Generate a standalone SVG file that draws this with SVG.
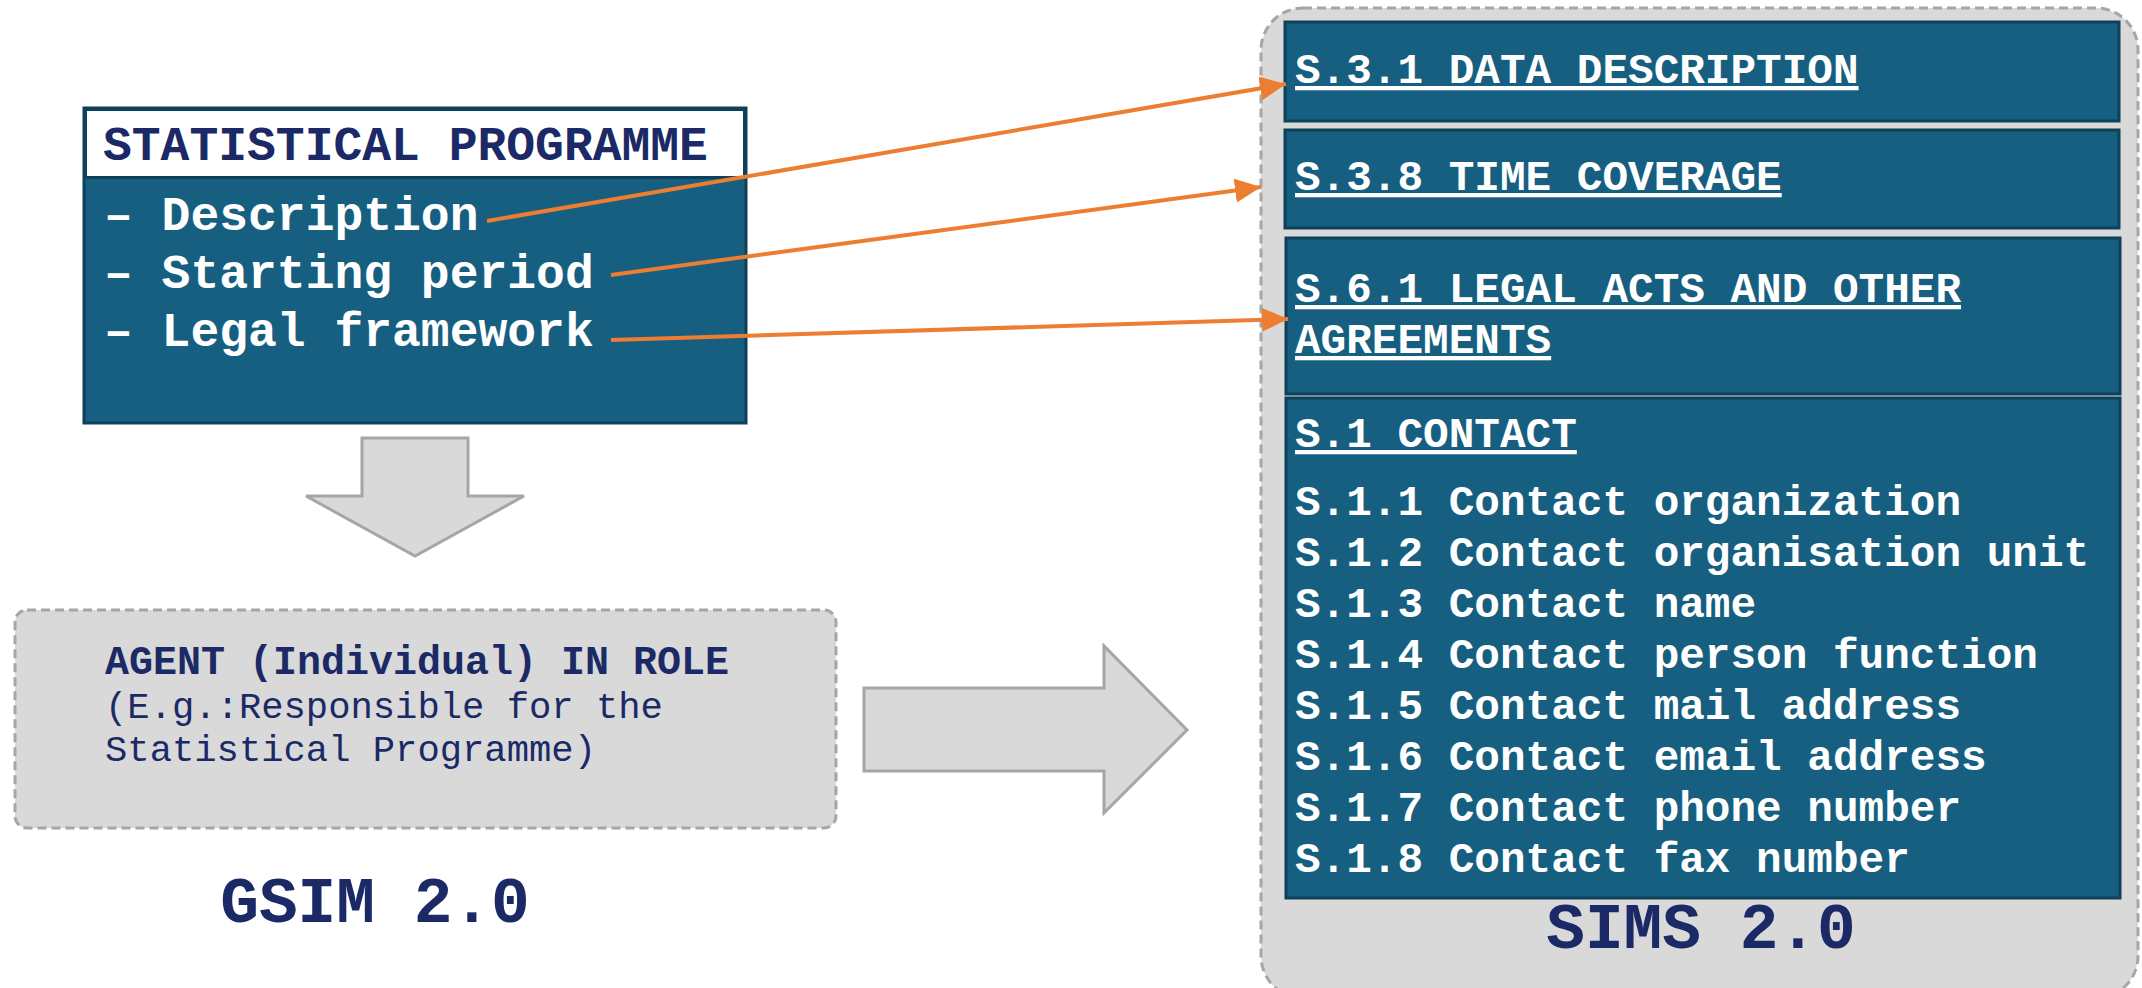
<svg xmlns="http://www.w3.org/2000/svg" width="2142" height="988" viewBox="0 0 2142 988">
<style>
.mono{font-family:"Liberation Mono","DejaVu Sans Mono",monospace}
.navyb{fill:#1B2A66;font-weight:bold}
.navy{fill:#1B2A66}
.white{fill:#FFFFFF;font-weight:bold}
.ul{text-decoration:underline}
.teal{fill:#175F80;stroke:#0E4159;stroke-width:3}
.grey{fill:#D9D9D9;stroke:#A6A6A6;stroke-width:3}
.dash{stroke-dasharray:9 5}
.conn{stroke:#ED7D31;stroke-width:4;fill:none}
</style>
<defs>
<marker id="ah" markerUnits="userSpaceOnUse" markerWidth="30" markerHeight="26" refX="26" refY="12" orient="auto">
<path d="M0,0 L26,12 L0,24 Z" fill="#ED7D31"/>
</marker>
</defs>
<rect width="2142" height="988" fill="#FFFFFF"/>

<g id="sims-container">
<rect class="grey dash" x="1261" y="8" width="877" height="990" rx="42"/>
<text class="mono navyb" x="1701" y="948" font-size="64.5" text-anchor="middle">SIMS 2.0</text>
</g>

<g id="sims-data-description">
<rect class="teal" x="1285" y="22" width="834" height="99"/>
<text class="mono white ul" x="1295" y="83" font-size="42.7">S.3.1 DATA DESCRIPTION</text>
</g>
<g id="sims-time-coverage">
<rect class="teal" x="1285" y="130" width="834" height="98"/>
<text class="mono white ul" x="1295" y="190" font-size="42.7">S.3.8 TIME COVERAGE</text>
</g>
<g id="sims-legal-acts">
<rect class="teal" x="1286" y="238" width="834" height="156"/>
<text class="mono white ul" x="1295" y="302" font-size="42.7">S.6.1 LEGAL ACTS AND OTHER</text>
<text class="mono white ul" x="1295" y="353" font-size="42.7">AGREEMENTS</text>
</g>
<g id="sims-contact">
<rect class="teal" x="1286" y="398" width="834" height="500"/>
<text class="mono white ul" x="1295" y="447" font-size="42.7">S.1 CONTACT</text>
<text class="mono white" font-size="42.7">
<tspan x="1295" y="515">S.1.1 Contact organization</tspan>
<tspan x="1295" y="566">S.1.2 Contact organisation unit</tspan>
<tspan x="1295" y="617">S.1.3 Contact name</tspan>
<tspan x="1295" y="668">S.1.4 Contact person function</tspan>
<tspan x="1295" y="719">S.1.5 Contact mail address</tspan>
<tspan x="1295" y="770">S.1.6 Contact email address</tspan>
<tspan x="1295" y="821">S.1.7 Contact phone number</tspan>
<tspan x="1295" y="872">S.1.8 Contact fax number</tspan>
</text>
</g>

<g id="statistical-programme">
<rect class="teal" x="84" y="108" width="662" height="315"/>
<rect x="85.5" y="109.5" width="659" height="68" fill="#FFFFFF" stroke="#0E4159" stroke-width="3"/>
<text class="mono navyb" x="103" y="160" font-size="48">STATISTICAL PROGRAMME</text>
<text class="mono white" font-size="48">
<tspan x="104" y="230">– Description</tspan>
<tspan x="104" y="288">– Starting period</tspan>
<tspan x="104" y="346">– Legal framework</tspan>
</text>
</g>

<g id="down-arrow">
<path class="grey" d="M362,438 L468,438 L468,496 L524,496 L415,556 L306,496 L362,496 Z"/>
</g>

<g id="agent-in-role">
<rect class="grey dash" x="15" y="610" width="821" height="218" rx="12"/>
<text class="mono navyb" x="105" y="674" font-size="40">AGENT (Individual) IN ROLE</text>
<text class="mono navy" font-size="37.2">
<tspan x="105" y="718">(E.g.:Responsible for the</tspan>
<tspan x="105" y="761">Statistical Programme)</tspan>
</text>
<text class="mono navyb" x="375" y="922" font-size="64.5" text-anchor="middle">GSIM 2.0</text>
</g>

<g id="right-arrow">
<path class="grey" d="M864,688 L1104,688 L1104,646 L1187,730 L1104,813 L1104,771 L864,771 Z"/>
</g>

<g id="connectors">
<line class="conn" x1="487" y1="221" x2="1286" y2="84" marker-end="url(#ah)"/>
<line class="conn" x1="611" y1="275" x2="1261" y2="187" marker-end="url(#ah)"/>
<line class="conn" x1="611" y1="340" x2="1288" y2="319" marker-end="url(#ah)"/>
</g>
</svg>
